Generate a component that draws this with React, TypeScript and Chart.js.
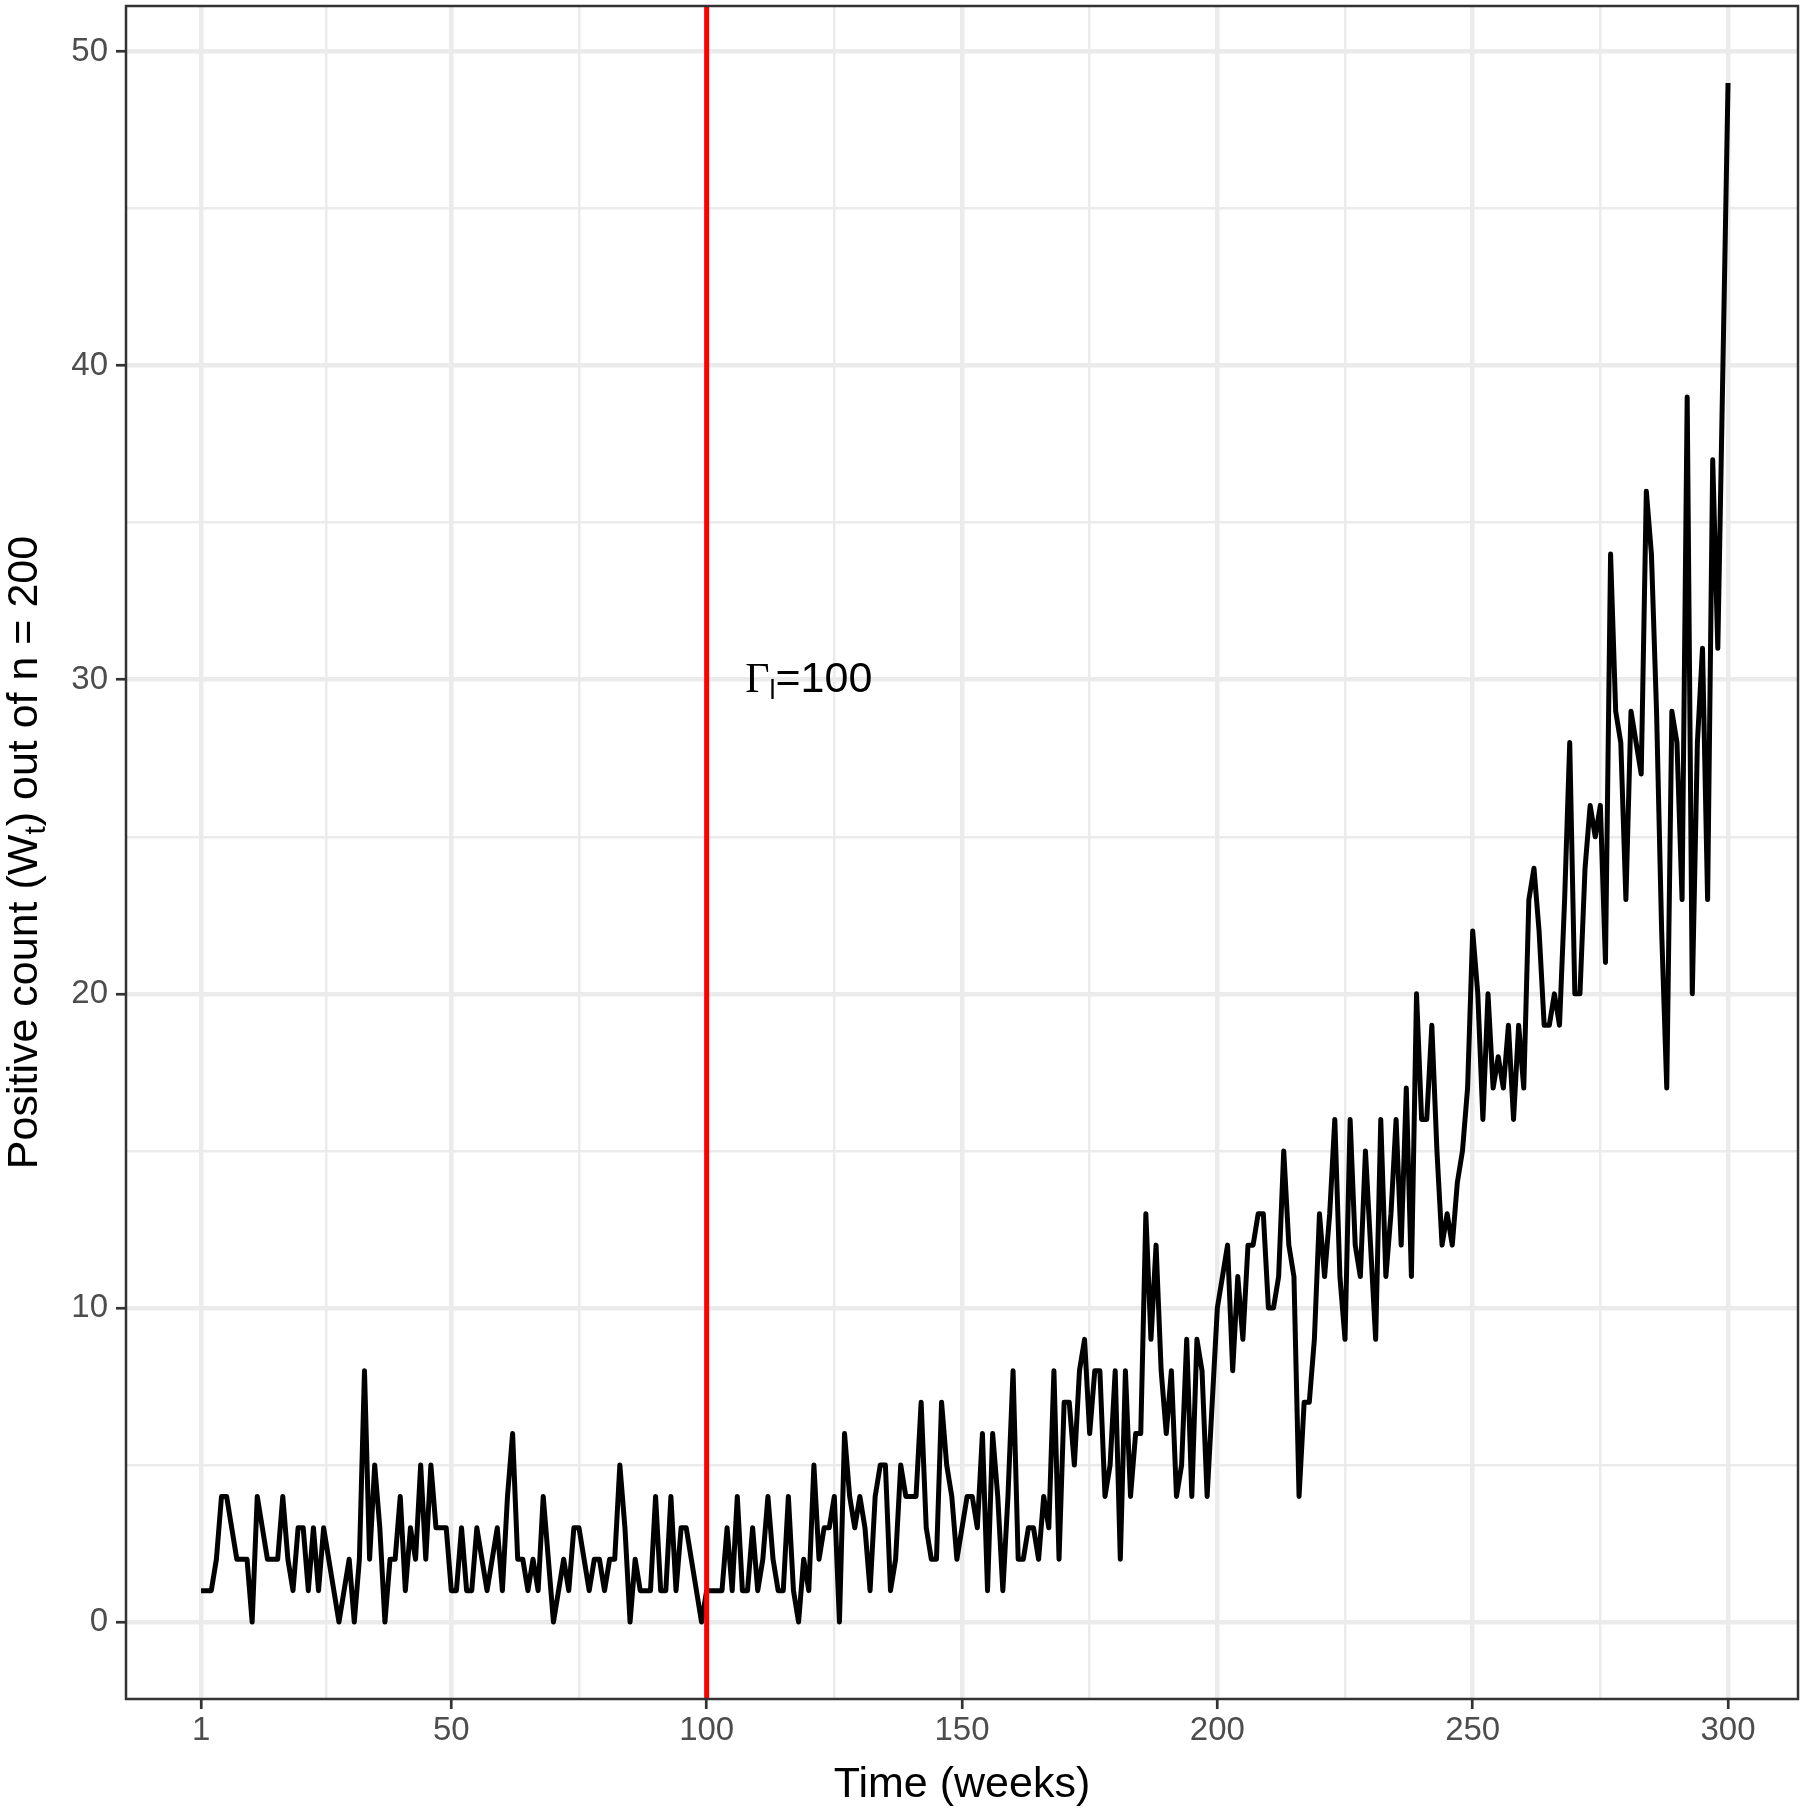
import React, { useEffect, useRef } from "react";
import { Chart, registerables } from "chart.js";

Chart.register(...registerables);

// ---- data (weekly positive counts W_t) ----
const countsWeeks1to100 = [
  1, 1, 1, 2, 4, 4, 3, 2, 2, 2,
  0, 4, 3, 2, 2, 2, 4, 2, 1, 3,
  3, 1, 3, 1, 3, 2, 1, 0, 1, 2,
  0, 2, 8, 2, 5, 3, 0, 2, 2, 4,
  1, 3, 2, 5, 2, 5, 3, 3, 3, 1,
  1, 3, 1, 1, 3, 2, 1, 2, 3, 1,
  4, 6, 2, 2, 1, 2, 1, 4, 2, 0,
  1, 2, 1, 3, 3, 2, 1, 2, 2, 1,
  2, 2, 5, 3, 0, 2, 1, 1, 1, 4,
  1, 1, 4, 1, 3, 3, 2, 1, 0, 1,
];
const countsWeeks101to200 = [
  1, 1, 1, 3, 1, 4, 1, 1, 3, 1,
  2, 4, 2, 1, 1, 4, 1, 0, 2, 1,
  5, 2, 3, 3, 4, 0, 6, 4, 3, 4,
  3, 1, 4, 5, 5, 1, 2, 5, 4, 4,
  4, 7, 3, 2, 2, 7, 5, 4, 2, 3,
  4, 4, 3, 6, 1, 6, 4, 1, 4, 8,
  2, 2, 3, 3, 2, 4, 3, 8, 2, 7,
  7, 5, 8, 9, 6, 8, 8, 4, 5, 8,
  2, 8, 4, 6, 6, 13, 9, 12, 8, 6,
  8, 4, 5, 9, 4, 9, 8, 4, 7, 10,
];
const countsWeeks201to300 = [
  11, 12, 8, 11, 9, 12, 12, 13, 13, 10,
  10, 11, 15, 12, 11, 4, 7, 7, 9, 13,
  11, 13, 16, 11, 9, 16, 12, 11, 15, 12,
  9, 16, 11, 13, 16, 12, 17, 11, 20, 16,
  16, 19, 15, 12, 13, 12, 14, 15, 17, 22,
  20, 16, 20, 17, 18, 17, 19, 16, 19, 17,
  23, 24, 22, 19, 19, 20, 19, 23, 28, 20,
  20, 24, 26, 25, 26, 21, 34, 29, 28, 23,
  29, 28, 27, 36, 34, 29, 22, 17, 29, 28,
  23, 39, 20, 28, 31, 23, 37, 31, 40, 49,
];
const firstWeek = 1;

// axis limits (as in the reference)
const xAxisMin = -13.7;
const xAxisMax = 313.7;
const yAxisMin = -2.45;
const yAxisMax = 51.45;

const xMajorTicks = [1, 50, 100, 150, 200, 250, 300];
const xMinorTicks = [25.5, 75, 125, 175, 225, 275];
const yMajorTicks = [0, 10, 20, 30, 40, 50];
const yMinorTicks = [5, 15, 25, 35, 45];

const changePointWeek = 100;
const annotationWeek = 120;
const annotationValue = 30;
const annotationParts = ["\u0393", "l", "=100"];

const xTitle = "Time (weeks)";
const yTitleParts = ["Positive count (W", "t", ") out of n = 200"];

const SANS = '"Liberation Sans", Arial, Helvetica, sans-serif';
const SERIF = '"Liberation Serif", "Times New Roman", serif';

export default function App() {
  const canvasRef = useRef<HTMLCanvasElement | null>(null);

  useEffect(() => {
    const canvas = canvasRef.current;
    if (!canvas) return;

    const counts = [...countsWeeks1to100, ...countsWeeks101to200, ...countsWeeks201to300];
    const points = counts.map((v, i) => ({ x: firstWeek + i, y: v }));

    const xMajorSet = new Set(xMajorTicks);
    const yMajorSet = new Set(yMajorTicks);

    const zeroPad = (s: any) => {
      s.paddingTop = 0;
      s.paddingBottom = 0;
      s.paddingLeft = 0;
      s.paddingRight = 0;
    };

    const decor = {
      id: "decor",
      afterDatasetsDraw(chart: any) {
        const { ctx, chartArea: a, scales } = chart;
        const x = scales.x;
        const y = scales.y;
        ctx.save();
        // change point vertical line
        const xp = x.getPixelForValue(changePointWeek);
        ctx.strokeStyle = "#FF0000";
        ctx.lineWidth = 5;
        ctx.beginPath();
        ctx.moveTo(xp, a.top);
        ctx.lineTo(xp, a.bottom);
        ctx.stroke();

        // annotation  Γ_l=100
        const ax = x.getPixelForValue(annotationWeek);
        const ay = y.getPixelForValue(annotationValue);
        const fonts = [`42px ${SERIF}`, `27px ${SANS}`, `43px ${SANS}`];
        const dys = [0, 7, 0];
        const widths = annotationParts.map((t, i) => {
          ctx.font = fonts[i];
          return ctx.measureText(t).width;
        });
        const total = widths.reduce((s, w) => s + w, 0);
        let cx = ax - total / 2;
        const base = ay + 12;
        ctx.fillStyle = "#000000";
        ctx.textBaseline = "alphabetic";
        ctx.textAlign = "left";
        annotationParts.forEach((t, i) => {
          ctx.font = fonts[i];
          ctx.fillText(t, cx, base + dys[i]);
          cx += widths[i];
        });

        // panel border
        ctx.strokeStyle = "#333333";
        ctx.lineWidth = 2.5;
        ctx.strokeRect(a.left, a.top, a.right - a.left, a.bottom - a.top);
        ctx.restore();
      },
      afterDraw(chart: any) {
        const { ctx, chartArea: a } = chart;
        ctx.save();
        ctx.fillStyle = "#000000";
        // x title
        ctx.font = `43px ${SANS}`;
        ctx.textAlign = "center";
        ctx.textBaseline = "alphabetic";
        ctx.fillText(xTitle, (a.left + a.right) / 2, 1797);

        // y title with subscript
        const fonts = [`43px ${SANS}`, `30px ${SANS}`, `43px ${SANS}`];
        const dys = [0, 8, 0];
        const widths = yTitleParts.map((t, i) => {
          ctx.font = fonts[i];
          return ctx.measureText(t).width;
        });
        const total = widths.reduce((s, w) => s + w, 0);
        ctx.translate(37, (a.top + a.bottom) / 2);
        ctx.rotate(-Math.PI / 2);
        ctx.textAlign = "left";
        let cx = -total / 2;
        yTitleParts.forEach((t, i) => {
          ctx.font = fonts[i];
          ctx.fillText(t, cx, dys[i]);
          cx += widths[i];
        });
        ctx.restore();
      },
    };

    const chart = new Chart(canvas, {
      type: "line",
      data: {
        datasets: [
          {
            data: points,
            borderColor: "#000000",
            borderWidth: 5,
            borderJoinStyle: "round",
            pointRadius: 0,
            tension: 0,
            fill: false,
          },
        ],
      },
      options: {
        animation: false,
        responsive: false,
        maintainAspectRatio: false,
        devicePixelRatio: 1,
        layout: { padding: { top: 6, right: 12, bottom: 0, left: 0 } },
        plugins: {
          legend: { display: false },
          tooltip: { enabled: false },
        },
        scales: {
          x: {
            type: "linear",
            min: xAxisMin,
            max: xAxisMax,
            afterBuildTicks: (s: any) => {
              s.ticks = [...xMajorTicks, ...xMinorTicks]
                .sort((p, q) => p - q)
                .map((v) => ({ value: v }));
            },
            afterFit: (s: any) => {
              s.height = 111;
              zeroPad(s);
            },
            ticks: {
              autoSkip: false,
              maxRotation: 0,
              minRotation: 0,
              padding: 2,
              color: "#4D4D4D",
              font: { size: 33, family: SANS },
              callback: (v: any) => (xMajorSet.has(Number(v)) ? String(v) : ""),
            },
            grid: {
              color: "#EBEBEB",
              lineWidth: (c: any) => (c.tick && xMajorSet.has(c.tick.value) ? 4.5 : 2.5),
              tickColor: (c: any) =>
                c.tick && xMajorSet.has(c.tick.value) ? "#333333" : "rgba(0,0,0,0)",
              tickWidth: 2.7,
              tickLength: 10,
              drawTicks: true,
            },
            border: { display: false },
          },
          y: {
            type: "linear",
            min: yAxisMin,
            max: yAxisMax,
            afterBuildTicks: (s: any) => {
              s.ticks = [...yMajorTicks, ...yMinorTicks]
                .sort((p, q) => p - q)
                .map((v) => ({ value: v }));
            },
            afterFit: (s: any) => {
              s.width = 126;
              zeroPad(s);
            },
            ticks: {
              autoSkip: false,
              padding: 8,
              color: "#4D4D4D",
              font: { size: 33, family: SANS },
              callback: (v: any) => (yMajorSet.has(Number(v)) ? String(v) : ""),
            },
            grid: {
              color: "#EBEBEB",
              lineWidth: (c: any) => (c.tick && yMajorSet.has(c.tick.value) ? 4.5 : 2.5),
              tickColor: (c: any) =>
                c.tick && yMajorSet.has(c.tick.value) ? "#333333" : "rgba(0,0,0,0)",
              tickWidth: 2.7,
              tickLength: 10,
              drawTicks: true,
            },
            border: { display: false },
          },
        },
      },
      plugins: [decor],
    } as any);

    return () => {
      chart.destroy();
    };
  }, []);

  return (
    <div
      style={{
        position: "fixed",
        left: 0,
        top: 0,
        width: 1810,
        height: 1810,
        background: "#ffffff",
      }}
    >
      <canvas ref={canvasRef} width={1810} height={1810} style={{ width: 1810, height: 1810 }} />
    </div>
  );
}
